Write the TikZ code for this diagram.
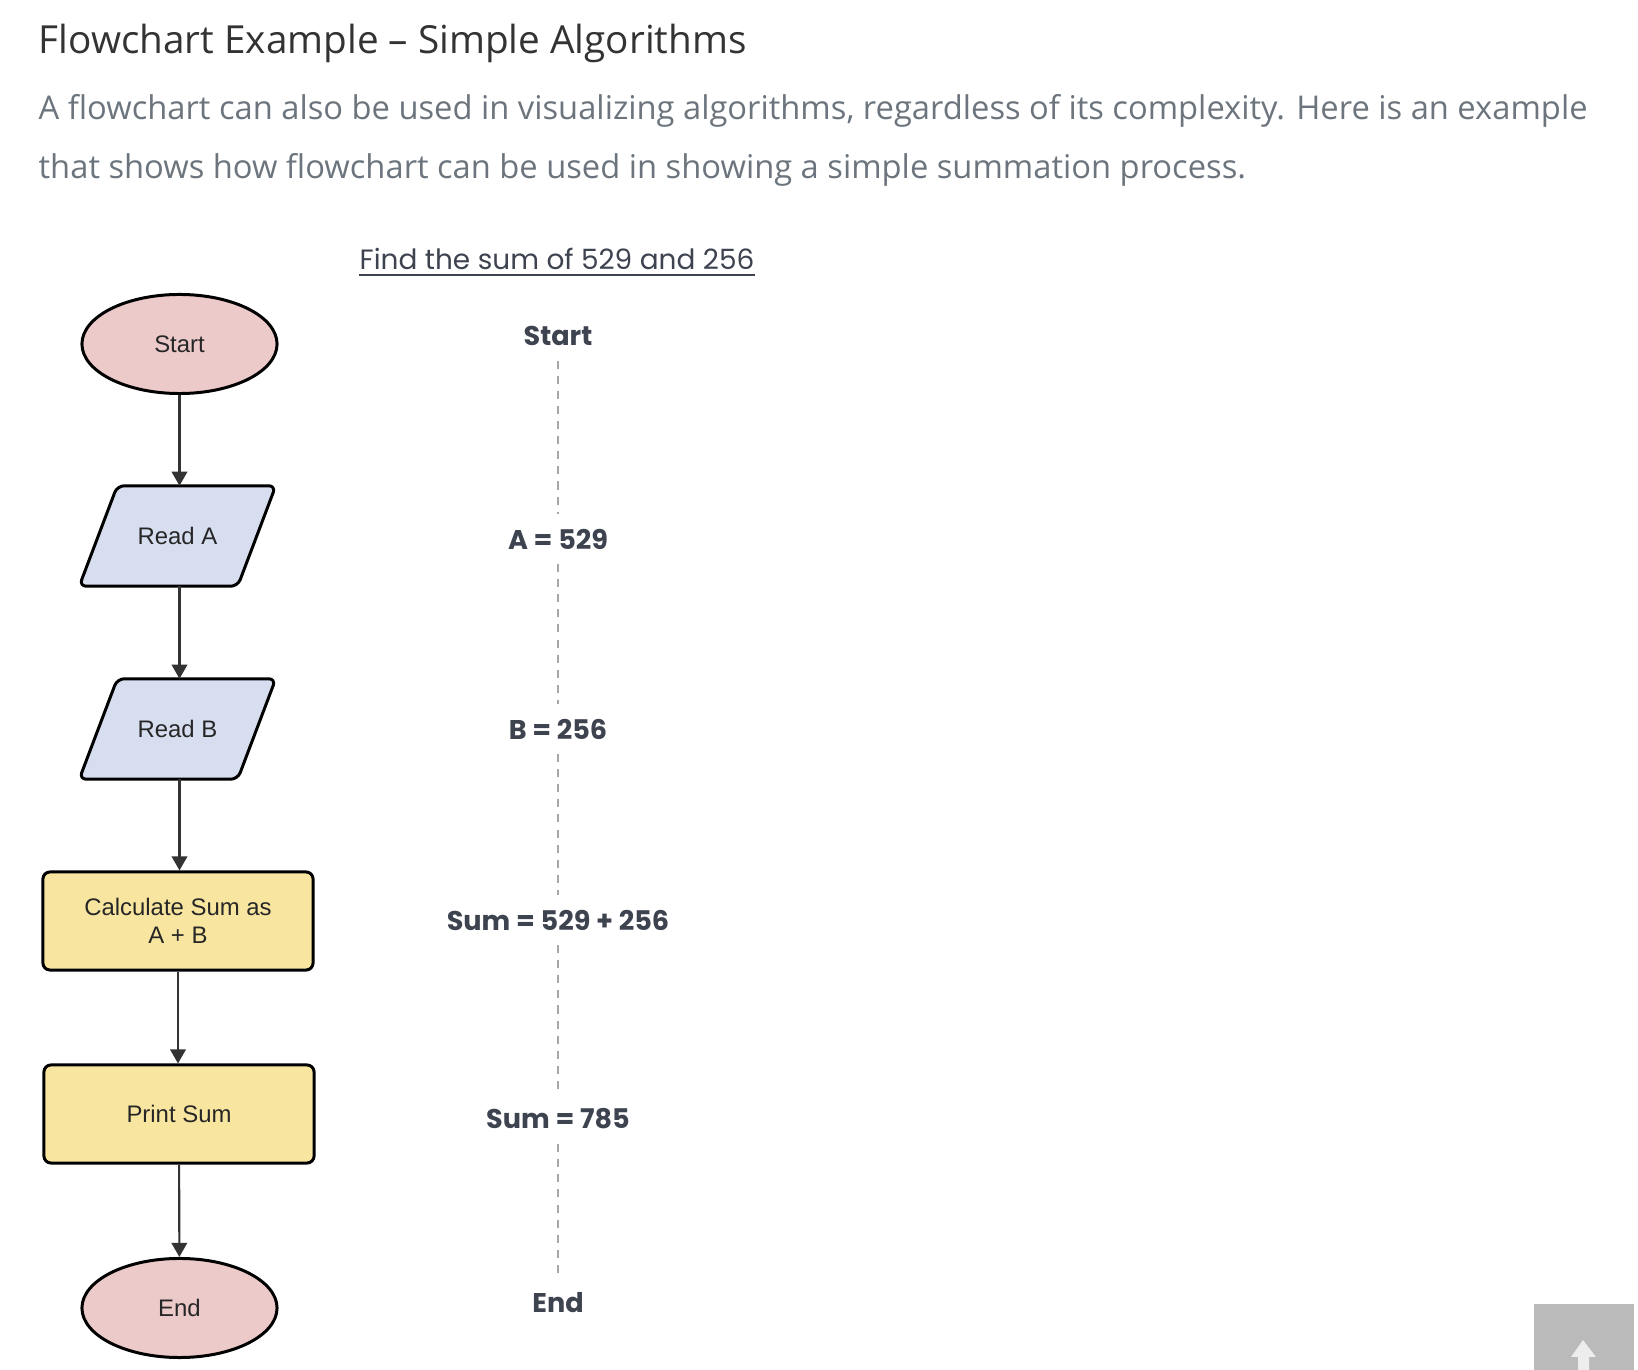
\documentclass[tikz,border=0pt]{standalone}
\usepackage{fontspec}
\setmainfont{Open Sans}
\newfontfamily\gothicfont{Poppins}
\newfontfamily\arialfont{Liberation Sans}
\usepackage{tikz}
\usetikzlibrary{shapes.geometric, arrows.meta, positioning, calc, backgrounds}
\definecolor{termcolor}{RGB}{236,202,202}
\definecolor{iocolor}{RGB}{214,222,240}
\definecolor{proccolor}{RGB}{248,230,160}
\definecolor{leadcolor}{RGB}{108,117,125}
\definecolor{tracecolor}{RGB}{62,67,80}

\begin{document}
\begin{tikzpicture}[
    x=0.01cm, y=-0.01cm,
    boxtext/.style={font=\arialfont\fontsize{6.8}{8}\selectfont, text=black!85},
    terminal/.style={ellipse, draw, line width=0.85pt, fill=termcolor, minimum width=1.95cm, minimum height=0.99cm, boxtext},
    ioput/.style={rectangle, minimum width=1.95cm, minimum height=0.99cm, boxtext},
    iobox/.style={draw, line width=0.85pt, rounded corners=2pt, fill=iocolor},
    process/.style={draw, line width=0.85pt, rounded corners=2pt, fill=proccolor, minimum width=2.7cm, minimum height=0.98cm, align=center, boxtext},
    flow/.style={-{Triangle[length=4pt, width=4.4pt]}, draw=black!80, line width=0.6pt},
    trace/.style={font=\gothicfont\bfseries\fontsize{7.7}{9}\selectfont, text=tracecolor, inner sep=4pt},
    guide/.style={draw=black!35, line width=0.4pt, dash pattern=on 2.3pt off 2pt}
]
    \useasboundingbox (0,0) rectangle (1638,1370);

    % page text
    \node[anchor=base west, inner sep=0, font=\fontsize{11}{13}\selectfont, text=black!80] (heading) at (38,54) {Flowchart Example – Simple Algorithms};
    \node[anchor=base west, inner sep=0, font=\fontsize{9.3}{11}\selectfont, text=leadcolor] (lead1) at (38,120) {A flowchart can also be used in visualizing algorithms, regardless of its complexity. Here is an example};
    \node[anchor=base west, inner sep=0, font=\fontsize{9.3}{11}\selectfont, text=leadcolor] (lead2) at (38,179) {that shows how flowchart can be used in showing a simple summation process.};

    % flowchart
    \node[terminal] (start) at (179.5,344) {Start};
    \node[ioput] (reada) at (177.5,536) {Read A};
    \node[ioput] (readb) at (177.5,729) {Read B};
    \node[process] (calc) at (178,921) {Calculate Sum as\\A + B};
    \node[process] (print) at (179,1114) {Print Sum};
    \node[terminal] (end) at (179.5,1308) {End};

    % slanted input boxes
    \begin{scope}[on background layer]
        \foreach \io in {reada, readb}
            \draw[iobox] (\io.south west) -- ([xshift=-0.38cm]\io.south east) -- (\io.north east) -- ([xshift=0.38cm]\io.north west) -- cycle;
    \end{scope}

    \draw[flow] (start) -- (start |- reada.north);
    \draw[flow] (reada.south -| start) -- (start |- readb.north);
    \draw[flow] (readb.south -| start) -- (start |- calc.north);
    \draw[flow] (calc) -- (calc |- print.north);
    \draw[flow] (print) -- (end);

    % worked values
    \node[anchor=base, inner sep=0, font=\gothicfont\fontsize{7.95}{9}\selectfont, text=tracecolor] (task) at (557,270) {Find the sum of 529 and 256};
    \draw[tracecolor, line width=0.5pt] ($(task.base west)+(0,5)$) -- ($(task.base east)+(0,5)$);

    \node[trace] (tstart) at (558,336) {Start};
    \node[trace] (ta) at (558,539) {A = 529};
    \node[trace] (tb) at (558,729) {B = 256};
    \node[trace] (tsum) at (558,920) {Sum = 529 + 256};
    \node[trace] (tres) at (558,1119) {Sum = 785};
    \node[trace] (tend) at (558,1303) {End};

    \draw[guide] (tstart.south) -- (ta.north);
    \draw[guide] (ta.south) -- (tb.north);
    \draw[guide] (tb.south) -- (tsum.north);
    \draw[guide] (tsum.south) -- (tres.north);
    \draw[guide] (tres.south) -- (tend.north);

    % scroll-to-top button
    \fill[black!27] (1534,1304) rectangle (1634,1370);
    \fill[black!7] (1583,1340) -- (1596,1357) -- (1589,1357) -- (1589,1370) -- (1578,1370) -- (1578,1357) -- (1571,1357) -- cycle;
\end{tikzpicture}
\end{document}
